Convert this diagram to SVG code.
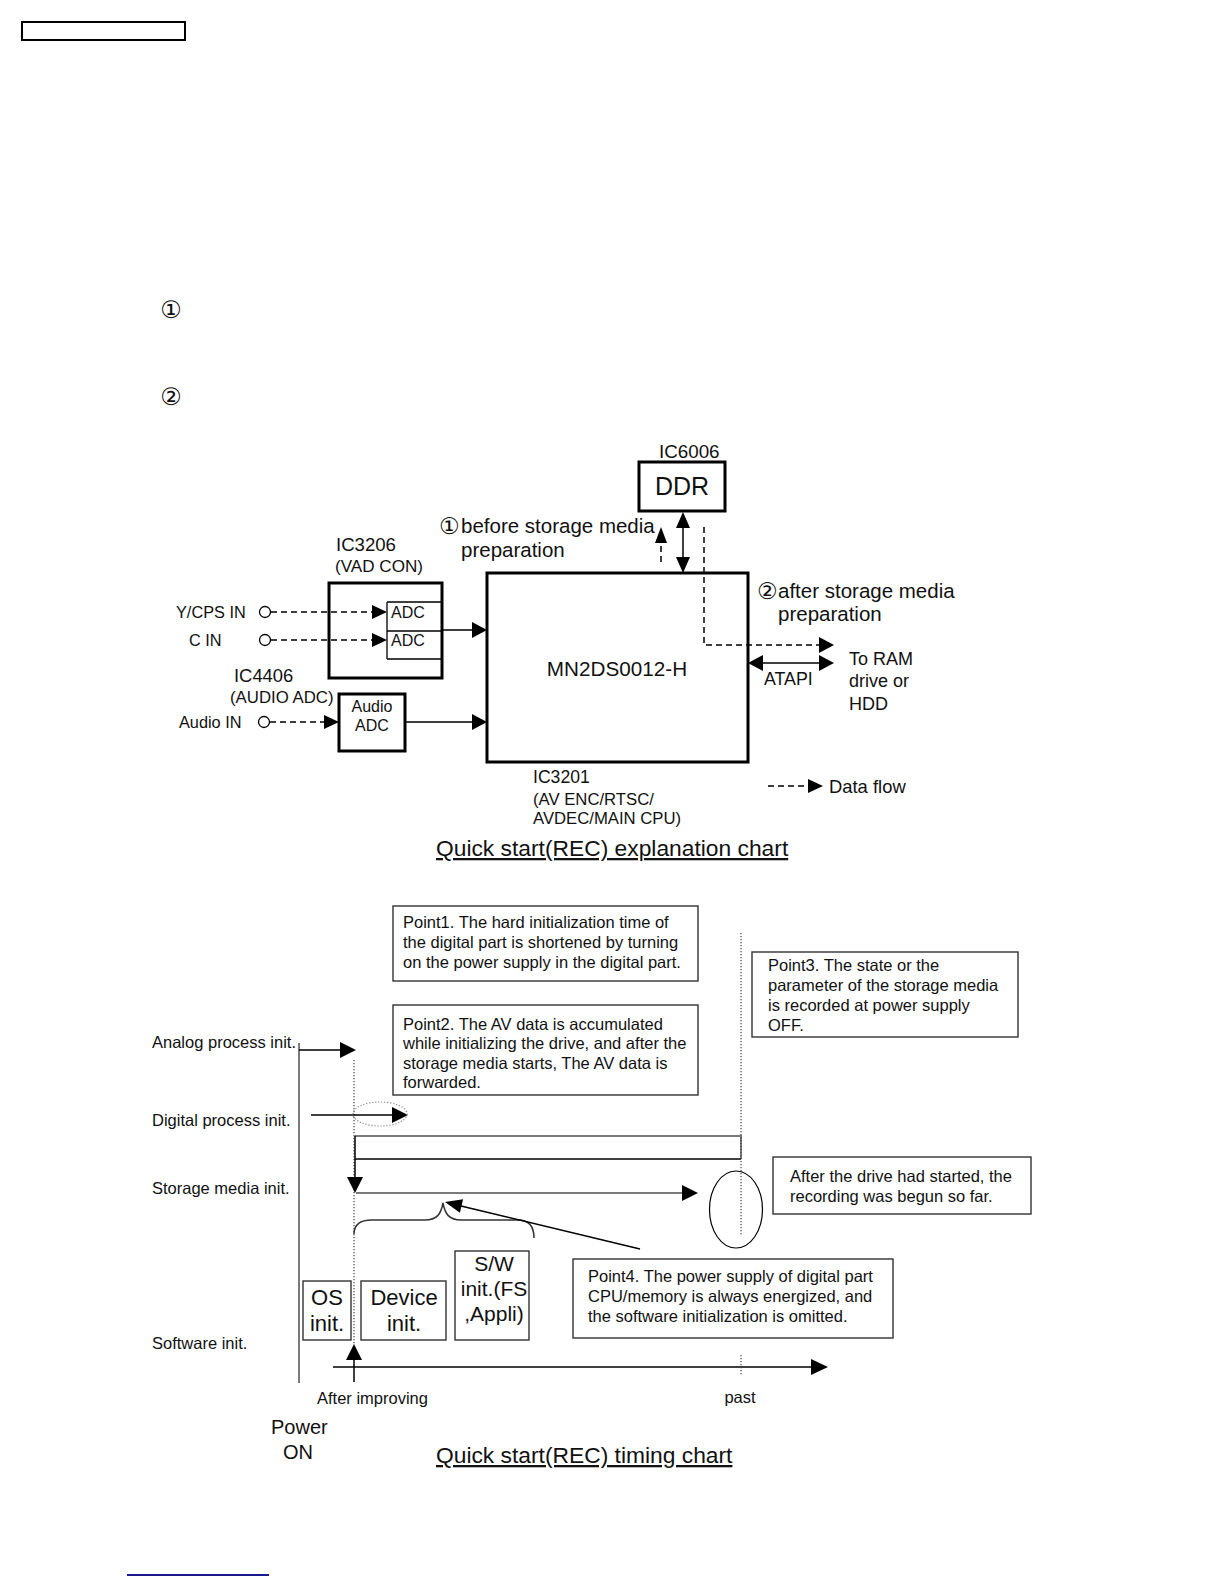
<svg xmlns="http://www.w3.org/2000/svg" width="1224" height="1584" viewBox="0 0 1224 1584">
<style>
text{font-family:"Liberation Sans","DejaVu Sans",Arial,sans-serif;fill:#111}
.circ{font-family:"DejaVu Sans",sans-serif}
.thick{fill:#fff;stroke:#000;stroke-width:3}
.thin{fill:none;stroke:#000;stroke-width:1.3}
.box{fill:#fff;stroke:#333;stroke-width:1.4}
.ln{stroke:#000;stroke-width:1.5;fill:none}
.dash{stroke:#000;stroke-width:1.5;fill:none;stroke-dasharray:6,4}
.dot{stroke:#444;stroke-width:1.2;fill:none;stroke-dasharray:1.2,1.8}
.gray{stroke:#7a7a7a;stroke-width:2;fill:none}
.ah{fill:#000}
.f16{font-size:16.3px}
.f17{font-size:17.6px}
.f19{font-size:20.5px}
.pt{font-size:16.5px}
.big{font-size:22px}
.ttl{font-size:22.8px;text-decoration:underline}
</style>
<rect x="22" y="22" width="163" height="18" fill="none" stroke="#000" stroke-width="2"/>
<text x="171" y="318" font-size="24" text-anchor="middle" class="circ">①</text>
<text x="171" y="405" font-size="24" text-anchor="middle" class="circ">②</text>

<!-- Explanation chart nodes -->
<g id="ddr">
<rect class="thick" x="639" y="462" width="86" height="49"/>
<text x="659" y="458" font-size="18.8">IC6006</text>
<text x="682" y="495" font-size="25" text-anchor="middle">DDR</text>
</g>
<g id="ic3201">
<rect class="thick" x="487" y="573" width="261" height="189"/>
<text x="617" y="676" font-size="20.7" text-anchor="middle">MN2DS0012-H</text>
<text x="533" y="783" class="f17">IC3201</text>
<text x="533" y="805" font-size="16.7">(AV ENC/RTSC/</text>
<text x="533" y="824" font-size="16.7">AVDEC/MAIN CPU)</text>
</g>
<g id="ic3206">
<rect class="thick" x="329" y="583" width="113" height="95"/>
<path class="thin" d="M387,602 H441 M387,631 H441 M387,659 H441 M387,602 V659"/>
<text x="391" y="618" font-size="16">ADC</text>
<text x="391" y="646" font-size="16">ADC</text>
<text x="336" y="551" font-size="18.6">IC3206</text>
<text x="335" y="572" font-size="17.1">(VAD CON)</text>
</g>
<g id="ic4406">
<rect class="thick" x="339" y="694" width="66" height="57"/>
<text x="372" y="712" font-size="16" text-anchor="middle">Audio</text>
<text x="372" y="731" font-size="16" text-anchor="middle">ADC</text>
<text x="234" y="682" font-size="18.4">IC4406</text>
<text x="230" y="703" font-size="16.8">(AUDIO ADC)</text>
</g>
<g id="inputs">
<text x="176" y="618" class="f16">Y/CPS IN</text>
<text x="189" y="646" class="f16">C IN</text>
<text x="179" y="728" class="f16">Audio IN</text>
<circle cx="265" cy="612" r="5.5" class="thin" stroke-width="1.5"/>
<circle cx="265" cy="640" r="5.5" class="thin" stroke-width="1.5"/>
<circle cx="264" cy="722" r="5.5" class="thin" stroke-width="1.5"/>
</g>
<g id="labels-top">
<text class="f19"><tspan x="439" y="534" class="circ" font-size="23">①</tspan><tspan x="461" y="533">before storage media</tspan></text>
<text x="461" y="557" class="f19">preparation</text>
<text class="f19"><tspan x="757" y="599" class="circ" font-size="23">②</tspan><tspan x="778" y="598">after storage media</tspan></text>
<text x="778" y="621" class="f19">preparation</text>
<text x="849" y="665" font-size="18">To RAM</text>
<text x="849" y="687" font-size="18">drive or</text>
<text x="849" y="710" font-size="18">HDD</text>
<text x="764" y="685" font-size="17.8">ATAPI</text>
<text x="829" y="793" font-size="18.4">Data flow</text>
<text x="436" y="856" class="ttl">Quick start(REC) explanation chart</text>
</g>
<g id="connectors-top">
<path class="dash" d="M271,612 H372 M271,640 H372 M270,722 H324"/>
<polygon class="ah" points="372,605 387,612 372,619"/>
<polygon class="ah" points="372,633 387,640 372,647"/>
<polygon class="ah" points="324,715 339,722 324,729"/>
<path class="ln" d="M442,630 H472 M405,722 H472"/>
<polygon class="ah" points="472,622 487,630 472,638"/>
<polygon class="ah" points="472,714 487,722 472,730"/>
<path class="ln" d="M683,526 V558"/>
<polygon class="ah" points="676,528 683,512 690,528"/>
<polygon class="ah" points="676,557 683,573 690,557"/>
<path class="dash" d="M661,562 V543"/>
<polygon class="ah" points="655,543 661,527 667,543"/>
<path class="dash" d="M704,527 V645 H819"/>
<polygon class="ah" points="819,637 834,645 819,653"/>
<path class="ln" d="M762,663 H820"/>
<polygon class="ah" points="763,655 748,663 763,671"/>
<polygon class="ah" points="819,655 834,663 819,671"/>
<path class="dash" d="M768,786 H808"/>
<polygon class="ah" points="808,779 823,786 808,793"/>
</g>

<!-- Timing chart -->
<g id="point1">
<rect class="box" x="393" y="906" width="305" height="75"/>
<text x="403" y="927.5" class="pt">Point1. The hard initialization time of</text>
<text x="403" y="947.5" class="pt">the digital part is shortened by turning</text>
<text x="403" y="967.5" class="pt">on the power supply in the digital part.</text>
</g>
<g id="point2">
<rect class="box" x="393" y="1005" width="305" height="90"/>
<text x="403" y="1029.5" class="pt">Point2. The AV data is accumulated</text>
<text x="403" y="1049" class="pt">while initializing the drive, and after the</text>
<text x="403" y="1068.5" class="pt">storage media starts, The AV data is</text>
<text x="403" y="1088" class="pt">forwarded.</text>
</g>
<g id="point3">
<rect class="box" x="752" y="952" width="266" height="85"/>
<text x="768" y="970.5" class="pt">Point3. The state or the</text>
<text x="768" y="990.5" class="pt">parameter of the storage media</text>
<text x="768" y="1010.5" class="pt">is recorded at power supply</text>
<text x="768" y="1030.5" class="pt">OFF.</text>
</g>
<g id="after-drive">
<rect class="box" x="773" y="1157" width="258" height="57"/>
<text x="790" y="1182" class="pt">After the drive had started, the</text>
<text x="790" y="1201.5" class="pt">recording was begun so far.</text>
</g>
<g id="point4">
<rect class="box" x="573" y="1259" width="320" height="79"/>
<text x="588" y="1282" class="pt">Point4. The power supply of digital part</text>
<text x="588" y="1302" class="pt">CPU/memory is always energized, and</text>
<text x="588" y="1322" class="pt">the software initialization is omitted.</text>
</g>
<g id="os-init">
<rect class="box" x="303" y="1281" width="48" height="59"/>
<text x="327" y="1305" class="big" text-anchor="middle">OS</text>
<text x="327" y="1331" class="big" text-anchor="middle">init.</text>
</g>
<g id="device-init">
<rect class="box" x="361" y="1281" width="85" height="59"/>
<text x="404" y="1305" class="big" text-anchor="middle">Device</text>
<text x="404" y="1331" class="big" text-anchor="middle">init.</text>
</g>
<g id="sw-init">
<rect class="box" x="455" y="1251" width="74" height="89"/>
<text x="494" y="1271" font-size="21" text-anchor="middle">S/W</text>
<text x="494" y="1296" font-size="21" text-anchor="middle">init.(FS</text>
<text x="494" y="1321" font-size="21" text-anchor="middle">,Appli)</text>
</g>
<g id="timing-labels">
<text x="152" y="1048" class="pt">Analog process init.</text>
<text x="152" y="1126" class="pt">Digital process init.</text>
<text x="152" y="1194" class="pt">Storage media init.</text>
<text x="152" y="1349" class="pt">Software init.</text>
<text x="317" y="1404" class="pt">After improving</text>
<text x="740" y="1403" class="pt" text-anchor="middle">past</text>
<text x="271" y="1434" font-size="20">Power</text>
<text x="298" y="1459" font-size="20" text-anchor="middle">ON</text>
<text x="436" y="1463" class="ttl">Quick start(REC) timing chart</text>
</g>
<g id="connectors-timing">
<path class="gray" d="M299,1043 V1383"/>
<path class="ln" d="M299,1050 H340"/>
<polygon class="ah" points="340,1042 356,1050 340,1058"/>
<path class="dot" d="M354,1060 V1345"/>
<path class="ln" d="M311,1115 H392"/>
<polygon class="ah" points="392,1107 408,1115 392,1123"/>
<ellipse cx="380" cy="1114" rx="27" ry="12" fill="none" stroke="#888" stroke-width="1.2" stroke-dasharray="1.2,1.8"/>
<path d="M355,1136 H741 V1159" stroke="#7a7a7a" stroke-width="2" fill="none"/>
<path class="ln" d="M355,1159 H741"/>
<path class="ln" d="M355,1136 V1178"/>
<polygon class="ah" points="347,1177 363,1177 355,1193"/>
<path class="gray" d="M356,1193 H682"/>
<polygon class="ah" points="682,1185 698,1193 682,1201"/>
<path class="dot" d="M741,933 V1235"/>
<ellipse cx="736" cy="1209.5" rx="26.5" ry="38.5" fill="none" stroke="#000" stroke-width="1.2"/>
<path d="M354,1234 C354,1224 360,1220 372,1220 L425,1220 C437,1220 441,1214 443,1203 C445,1214 449,1220 461,1220 L518,1220 C530,1220 534,1228 534,1238" fill="none" stroke="#333" stroke-width="1.5"/>
<path class="ln" d="M640,1249 L461,1206"/>
<polygon class="ah" points="445,1202 459.9,1212.8 463.1,1199.2"/>
<polygon class="ah" points="346,1360 362,1360 354,1344"/>
<path class="ln" d="M354,1360 V1382"/>
<path class="ln" d="M333,1367 H811"/>
<polygon class="ah" points="811,1359 828,1367 811,1375"/>
<path class="dot" d="M741,1355 V1375"/>
</g>
<line x1="127" y1="1575" x2="269" y2="1575" stroke="#1a1a8c" stroke-width="2"/>
</svg>
